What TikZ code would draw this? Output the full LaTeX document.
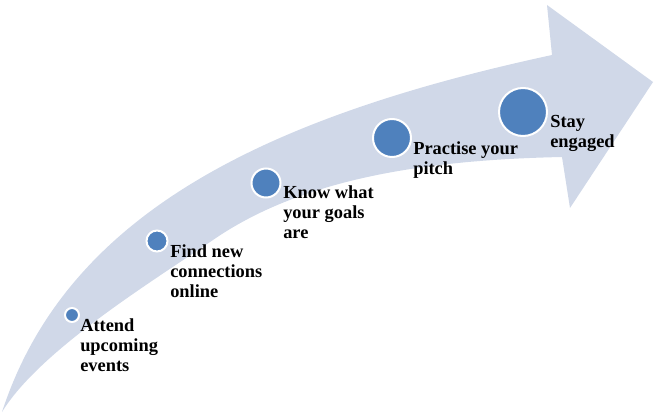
\documentclass[tikz,border=0pt]{standalone}
\usepackage{fontspec}
\setmainfont{Liberation Serif}
\usetikzlibrary{positioning}
\definecolor{bandcol}{HTML}{D0D8E8}
\definecolor{dotcol}{HTML}{4F81BD}

\begin{document}
\begin{tikzpicture}[x=0.75pt,y=-0.75pt,
    dot/.style={circle, fill=dotcol, draw=white, line width=1.5pt, inner sep=0pt},
    lbl/.style={anchor=base west, inner sep=0pt, align=left,
        font=\fontsize{13.8}{15}\selectfont\bfseries}]
    \useasboundingbox (0,0) rectangle (654,417);

    % the big curved arrow
    \fill[bandcol] (2,412) .. controls (66,216) and (260,118) .. (552,55)
        -- (547,5) -- (653,82) -- (570,208) -- (562,157)
        .. controls (420,160) and (300,180) .. (213,240)
        .. controls (153,281) and (40,350) .. (2,412) -- cycle;

    % steps
    \node[dot, minimum size=10.5pt] (cAttend) at (72,315) {};
    \node[dot, minimum size=15.75pt] (cFind) at (157,241) {};
    \node[dot, minimum size=21.75pt] (cKnow) at (266,183) {};
    \node[dot, minimum size=28.5pt] (cPractise) at (392,138) {};
    \node[dot, minimum size=36pt] (cStay) at (523,112) {};

    % labels (base = last line)
    \node[lbl] (tAttend) at (80,371) {Attend\\upcoming\\events};
    \node[lbl] (tFind) at (170,297) {Find new\\connections\\online};
    \node[lbl] (tKnow) at (283,239) {Know what\\your goals\\are};
    \node[lbl] (tPractise) at (413,175) {Practise your\\pitch};
    \node[lbl] (tStay) at (550,148) {Stay\\engaged};

\end{tikzpicture}
\end{document}
